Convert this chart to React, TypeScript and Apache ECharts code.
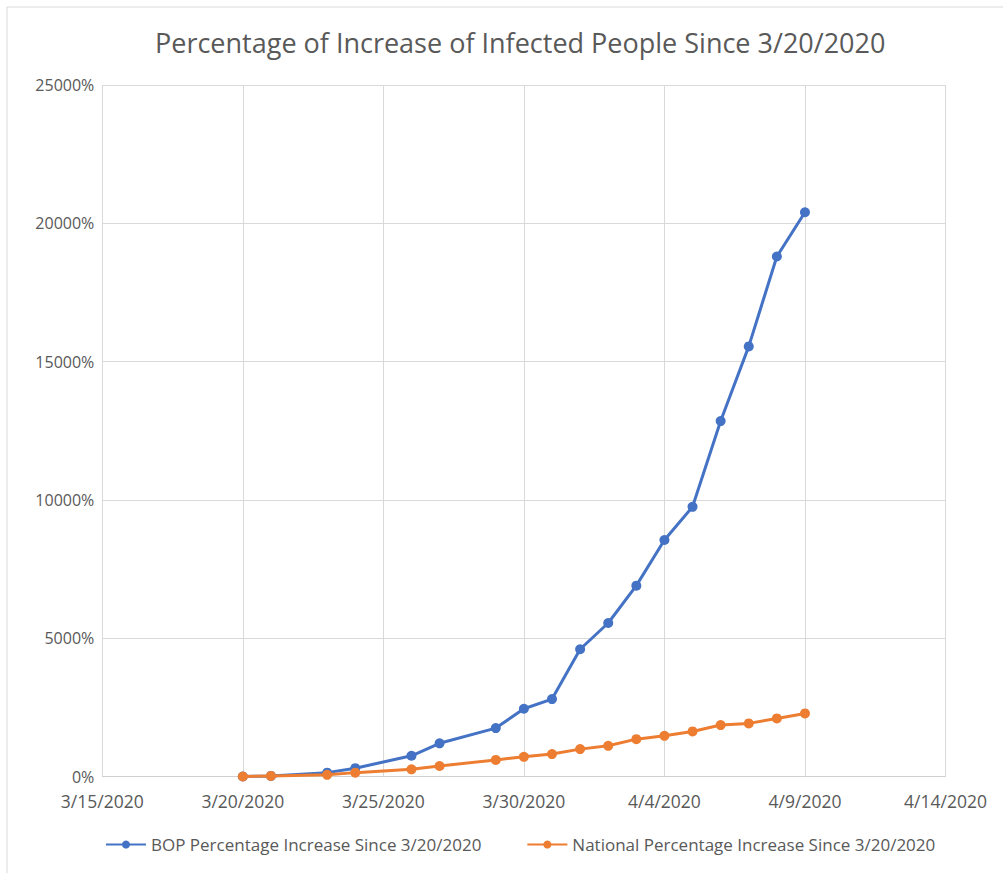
import React, { useEffect, useRef } from "react";
import * as echarts from "echarts";

const dates = [
  "3/20/2020", "3/21/2020", "3/23/2020", "3/24/2020", "3/26/2020", "3/27/2020",
  "3/29/2020", "3/30/2020", "3/31/2020", "4/1/2020", "4/2/2020", "4/3/2020",
  "4/4/2020", "4/5/2020", "4/6/2020", "4/7/2020", "4/8/2020", "4/9/2020",
];
const bopValues = [0, 20, 140, 300, 750, 1200, 1750, 2450, 2800, 4600, 5550, 6900, 8550, 9750, 12850, 15550, 18800, 20400];
const nationalValues = [0, 20, 60, 140, 260, 380, 600, 710, 810, 990, 1110, 1350, 1470, 1630, 1860, 1920, 2100, 2280];
const seriesNames = ["BOP Percentage Increase Since 3/20/2020", "National Percentage Increase Since 3/20/2020"];
const axisStart = "3/15/2020";
const axisEnd = "4/14/2020";
const yTicks = [0, 5000, 10000, 15000, 20000, 25000];

const DAY = 86400000;
const parse = (s: string) => {
  const [m, d, y] = s.split("/").map(Number);
  return Date.UTC(y, m - 1, d);
};
const base = parse(axisStart);
const toDay = (s: string) => Math.round((parse(s) - base) / DAY);
const fmtDay = (v: number) => {
  const dt = new Date(base + v * DAY);
  return `${dt.getUTCMonth() + 1}/${dt.getUTCDate()}/${dt.getUTCFullYear()}`;
};

const FONT = "Open Sans";

export default function App() {
  const ref = useRef<HTMLDivElement>(null);
  useEffect(() => {
    const chart = echarts.init(ref.current!, null, { renderer: "svg" });
    const mk = (vals: number[]) => dates.map((d, i) => [toDay(d), vals[i]]);
    chart.setOption({
      animation: false,
      backgroundColor: "#ffffff",
      textStyle: { fontFamily: FONT },
      title: {
        text: "Percentage of Increase of Infected People Since 3/20/2020",
        left: 150,
        top: 24,
        textStyle: { fontFamily: FONT, fontSize: 27, fontWeight: "normal", color: "#595959" },
      },
      graphic: [
        {
          type: "rect",
          shape: { x: 7, y: 7, width: 1010, height: 880 },
          style: { fill: "none", stroke: "#d9d9d9", lineWidth: 1 },
          silent: true,
        },
      ],
      legend: {
        left: 100,
        top: 831,
        itemWidth: 40,
        itemHeight: 10,
        itemGap: 45,
        textStyle: { fontFamily: FONT, fontSize: 17, color: "#595959" },
        data: seriesNames,
      },
      grid: { left: 102.3, right: 57.5, top: 85, bottom: 96.5, containLabel: false },
      xAxis: {
        type: "value",
        min: 0,
        max: toDay(axisEnd),
        interval: 5,
        axisLine: { show: true, lineStyle: { color: "#d0d0d0", width: 1 } },
        axisTick: { show: false },
        splitLine: { show: true, lineStyle: { color: "#d9d9d9", width: 1 } },
        axisLabel: {
          formatter: (v: number) => fmtDay(v),
          fontFamily: FONT,
          fontSize: 17.5,
          color: "#595959",
          margin: 15,
        },
      },
      yAxis: {
        type: "value",
        min: yTicks[0],
        max: yTicks[yTicks.length - 1],
        interval: 5000,
        axisLine: { show: false },
        axisTick: { show: false },
        splitLine: { show: true, lineStyle: { color: "#d9d9d9", width: 1 } },
        axisLabel: {
          formatter: (v: number) => `${v}%`,
          fontFamily: FONT,
          fontSize: 16,
          color: "#595959",
          margin: 8,
        },
      },
      series: [
        {
          name: seriesNames[0],
          type: "line",
          data: mk(bopValues),
          symbol: "circle",
          symbolSize: 10,
          lineStyle: { color: "#4472C4", width: 3 },
          itemStyle: { color: "#4472C4" },
          z: 2,
        },
        {
          name: seriesNames[1],
          type: "line",
          data: mk(nationalValues),
          symbol: "circle",
          symbolSize: 10,
          lineStyle: { color: "#ED7D31", width: 3 },
          itemStyle: { color: "#ED7D31" },
          z: 3,
        },
      ],
    });
    return () => chart.dispose();
  }, []);
  return (
    <div
      ref={ref}
      style={{ position: "absolute", left: 0, top: 0, width: 1003, height: 873 }}
    />
  );
}
